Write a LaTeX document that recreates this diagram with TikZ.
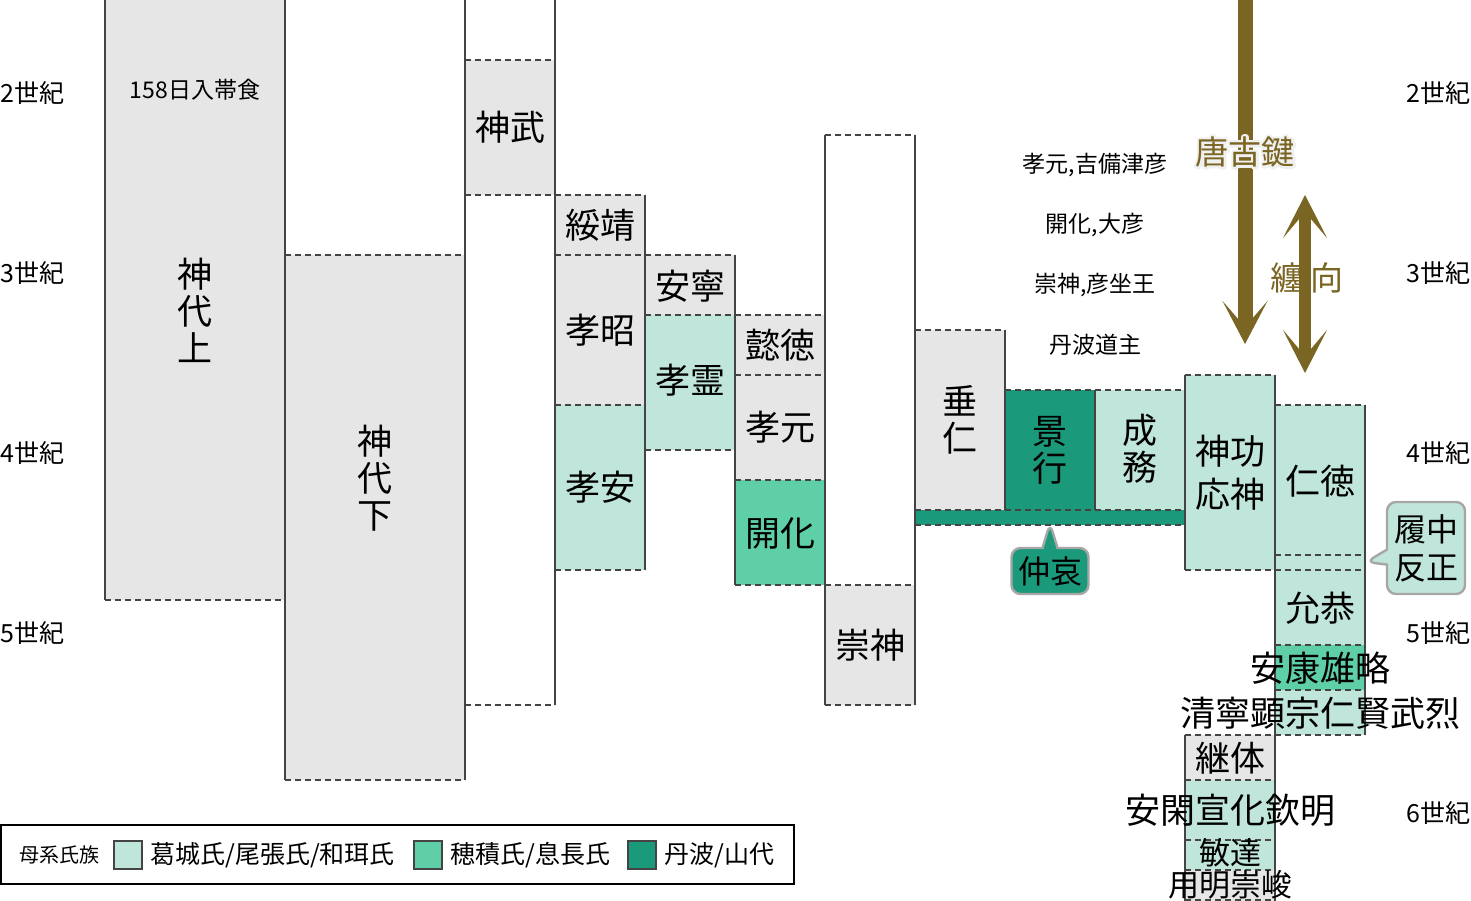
\documentclass[tikz,border=0pt]{standalone}
\usepackage{fontspec}
\setmainfont{Noto Sans CJK JP}
\usetikzlibrary{arrows.meta,shapes.callouts}
\definecolor{haiiro}{HTML}{E6E6E6}
\definecolor{usumidori}{HTML}{C0E6DB}
\definecolor{nakamidori}{HTML}{5FCFA8}
\definecolor{komidori}{HTML}{1A9A7A}
\definecolor{kihada}{RGB}{122,101,35}
\definecolor{senzumi}{HTML}{444444}
\newcommand{\fuchidori}[1]{\special{pdf:literal direct 1 Tr 5 w 0.94 0.94 0.94 RG 1 j}#1\special{pdf:literal direct 0 Tr}}
\tikzset{
	kugiri/.style={draw=senzumi, line width=1.6pt, dash pattern=on 6pt off 4pt},
	hashira/.style={draw=senzumi, line width=2.6pt},
	tenno/.style={font=\fontsize{35}{37}\selectfont, align=center, inner sep=0pt},
	chuki/.style={font=\fontsize{23}{26}\selectfont, inner sep=0pt},
	seiki/.style={font=\fontsize{25}{28}\selectfont, inner sep=0pt},
	hanreimoji/.style={font=\fontsize{25}{28}\selectfont, inner sep=0pt, anchor=west},
	iroban/.style={draw=senzumi, line width=1.2pt, minimum size=28pt, inner sep=0pt},
	fukidashi/.style={rectangle callout, draw=black!35, line width=2.4pt, rounded corners=9pt, callout pointer width=15pt, font=\fontsize{32}{38}\selectfont, align=center, inner sep=0pt},
	yajirushi/.style={draw=kihada, line width=15pt},
	meibutsu/.style={font=\fontsize{33}{36}\selectfont, inner sep=0pt},
}
\begin{document}
\begin{tikzpicture}[x=1pt,y=-1pt]
	\useasboundingbox (0,0) rectangle (1471,901);
	\fill [haiiro] (105,0) rectangle (285,600);
	\fill [haiiro] (285,255) rectangle (465,780);
	\fill [haiiro] (465,60) rectangle (555,195);
	\fill [haiiro] (555,195) rectangle (645,405);
	\fill [usumidori] (555,405) rectangle (645,570);
	\fill [haiiro] (645,255) rectangle (735,315);
	\fill [usumidori] (645,315) rectangle (735,450);
	\fill [haiiro] (735,315) rectangle (825,480);
	\fill [nakamidori] (735,480) rectangle (825,585);
	\fill [haiiro] (825,585) rectangle (915,705);
	\fill [haiiro] (915,330) rectangle (1005,510);
	\fill [komidori] (1005,390) rectangle (1095,510);
	\fill [usumidori] (1095,390) rectangle (1185,510);
	\fill [komidori] (915,510) rectangle (1185,525);
	\fill [usumidori] (1185,375) rectangle (1275,570);
	\fill [usumidori] (1275,405) rectangle (1365,645);
	\fill [nakamidori] (1275,645) rectangle (1365,690);
	\fill [usumidori] (1275,690) rectangle (1365,735);
	\fill [haiiro] (1185,735) rectangle (1275,780);
	\fill [usumidori] (1185,780) rectangle (1275,870);
	\fill [haiiro] (1185,870) rectangle (1275,901);

	\draw [kugiri] (105,600) -- (285,600);
	\draw [kugiri] (285,255) -- (465,255);
	\draw [kugiri] (285,780) -- (465,780);
	\draw [kugiri] (465,60) -- (555,60);
	\draw [kugiri] (465,195) -- (645,195);
	\draw [kugiri] (465,705) -- (555,705);
	\draw [kugiri] (555,255) -- (735,255);
	\draw [kugiri] (555,405) -- (645,405);
	\draw [kugiri] (555,570) -- (645,570);
	\draw [kugiri] (645,315) -- (825,315);
	\draw [kugiri] (645,450) -- (735,450);
	\draw [kugiri] (735,375) -- (825,375);
	\draw [kugiri] (735,480) -- (825,480);
	\draw [kugiri] (735,585) -- (915,585);
	\draw [kugiri] (825,135) -- (915,135);
	\draw [kugiri] (825,705) -- (915,705);
	\draw [kugiri] (915,330) -- (1005,330);
	\draw [kugiri] (1005,390) -- (1185,390);
	\draw [kugiri] (915,510) -- (1185,510);
	\draw [kugiri] (915,525) -- (1185,525);
	\draw [kugiri] (1185,375) -- (1275,375);
	\draw [kugiri] (1185,570) -- (1275,570);
	\draw [kugiri] (1275,405) -- (1365,405);
	\draw [kugiri] (1275,555) -- (1365,555);
	\draw [kugiri] (1275,570) -- (1365,570);
	\draw [kugiri] (1275,645) -- (1365,645);
	\draw [kugiri] (1275,690) -- (1365,690);
	\draw [kugiri] (1185,735) -- (1365,735);
	\draw [kugiri] (1185,780) -- (1275,780);
	\draw [kugiri] (1185,840) -- (1275,840);
	\draw [kugiri] (1185,870) -- (1275,870);
	\draw [kugiri] (1185,900) -- (1275,900);

	\draw [hashira] (105,0) -- (105,600);
	\draw [hashira] (285,0) -- (285,780);
	\draw [hashira] (465,0) -- (465,780);
	\draw [hashira] (555,0) -- (555,705);
	\draw [hashira] (645,195) -- (645,570);
	\draw [hashira] (735,255) -- (735,585);
	\draw [hashira] (825,135) -- (825,705);
	\draw [hashira] (915,135) -- (915,705);
	\draw [hashira] (1005,330) -- (1005,510);
	\draw [hashira] (1095,390) -- (1095,510);
	\draw [hashira] (1185,375) -- (1185,570);
	\draw [hashira] (1185,735) -- (1185,901);
	\draw [hashira] (1275,375) -- (1275,901);
	\draw [hashira] (1365,405) -- (1365,735);

	\node [chuki] (shokujitsu) at (195,90) {158日入帯食};
	\node [tenno] (jindaiue) at (195,310) {神\\代\\上};
	\node [tenno] (jindaishita) at (375,478) {神\\代\\下};
	\node [tenno] (jinmu) at (510,127) {神武};
	\node [tenno] (suizei) at (600,225) {綏靖};
	\node [tenno] (kosho) at (600,330) {孝昭};
	\node [tenno] (koan) at (600,487) {孝安};
	\node [tenno] (annei) at (690,286) {安寧};
	\node [tenno] (korei) at (690,380) {孝霊};
	\node [tenno] (itoku) at (780,345) {懿徳};
	\node [tenno] (kogen) at (780,427) {孝元};
	\node [tenno] (kaika) at (780,533) {開化};
	\node [tenno] (sujin) at (870,645) {崇神};
	\node [tenno] (suinin) at (960,420) {垂\\仁};
	\node [tenno] (keiko) at (1050,450) {景\\行};
	\node [tenno] (seimu) at (1140,449) {成\\務};
	\node [tenno, font=\fontsize{35}{43}\selectfont] (jingu) at (1230,473) {神功\\応神};
	\node [tenno] (nintoku) at (1320,481) {仁徳};
	\node [tenno] (ingyo) at (1320,608) {允恭};
	\node [tenno] (anko) at (1320,668) {安康雄略};
	\node [tenno] (seinei) at (1320,713) {清寧顕宗仁賢武烈};
	\node [tenno] (keitai) at (1230,758) {継体};
	\node [tenno] (ankan) at (1230,810) {安閑宣化欽明};
	\node [tenno, font=\fontsize{31}{33}\selectfont] (bidatsu) at (1230,853) {敏達};
	\node [tenno, font=\fontsize{31}{33}\selectfont] (yomei) at (1230,885) {用明崇峻};

	\node [chuki] (kibitsuhiko) at (1095,165) {孝元,吉備津彦};
	\node [chuki] (ohiko) at (1095,225) {開化,大彦};
	\node [chuki] (hikoimasu) at (1095,285) {崇神,彦坐王};
	\node [chuki] (michinoushi) at (1095,345) {丹波道主};

	\node [seiki, anchor=west] (hidari2) at (0,93) {2世紀};
	\node [seiki, anchor=west] (hidari3) at (0,273) {3世紀};
	\node [seiki, anchor=west] (hidari4) at (0,453) {4世紀};
	\node [seiki, anchor=west] (hidari5) at (0,633) {5世紀};
	\node [seiki, anchor=east] (migi2) at (1471,93) {2世紀};
	\node [seiki, anchor=east] (migi3) at (1471,273) {3世紀};
	\node [seiki, anchor=east] (migi4) at (1471,453) {4世紀};
	\node [seiki, anchor=east] (migi5) at (1471,633) {5世紀};
	\node [seiki, anchor=east] (migi6) at (1471,813) {6世紀};

	\coordinate (karako-ue) at (1245,-10);
	\coordinate (karako-shita) at (1245,344);
	\coordinate (makimuku-ue) at (1305,195);
	\coordinate (makimuku-shita) at (1305,373);
	\draw [yajirushi, -{Stealth[length=43pt,width=45pt,inset=26pt]}] (karako-ue) -- (karako-shita);
	\draw [yajirushi, line width=12pt, {Stealth[length=43pt,width=44pt,inset=26pt]}-{Stealth[length=43pt,width=44pt,inset=26pt]}] (makimuku-ue) -- (makimuku-shita);
	\node [meibutsu, text=white] (karako-fuchi) at (1245,152) {\fuchidori{唐古鍵}};
	\node [meibutsu, text=kihada] (karako) at (1245,152) {唐古鍵};
	\node [meibutsu, text=kihada] (makimuku) at (1307,278) {纏 向};

	\node [fukidashi, fill=komidori, minimum width=77pt, minimum height=46pt, callout absolute pointer={(1050,523)}] (chuai) at (1050,571) {仲哀};
	\node [fukidashi, fill=usumidori, minimum width=78pt, minimum height=92pt, callout absolute pointer={(1366,562)}] (richu) at (1426,548) {履中\\反正};

	\draw [line width=1.5pt] (1,825) rectangle (794,884);
	\node [font=\fontsize{20}{22}\selectfont, inner sep=0pt] (boke) at (59,855) {母系氏族};
	\node [iroban, fill=usumidori] (iro-kazuraki) at (128,855) {};
	\node [hanreimoji] (hanrei-kazuraki) at (150,855) {葛城氏/尾張氏/和珥氏};
	\node [iroban, fill=nakamidori] (iro-hozumi) at (428,855) {};
	\node [hanreimoji] (hanrei-hozumi) at (450,855) {穂積氏/息長氏};
	\node [iroban, fill=komidori] (iro-tanba) at (642,855) {};
	\node [hanreimoji] (hanrei-tanba) at (664,855) {丹波/山代};
\end{tikzpicture}
\end{document}
